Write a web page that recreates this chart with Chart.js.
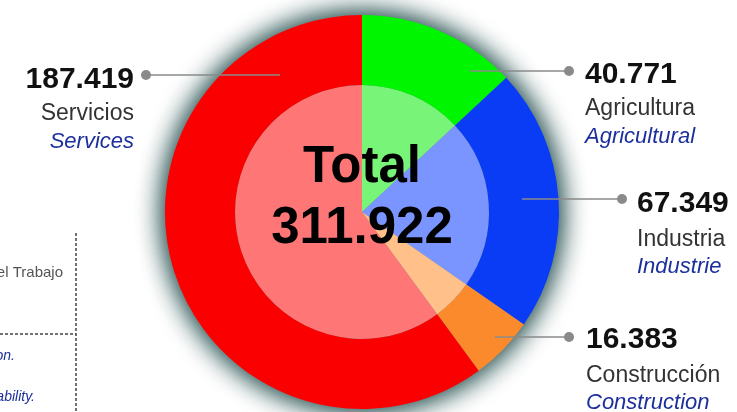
<!DOCTYPE html>
<html>
<head>
<meta charset="utf-8">
<script src="https://cdn.jsdelivr.net/npm/chart.js@4/dist/chart.umd.min.js"></script>
<style>
  html, body { margin: 0; padding: 0; background: #ffffff; }
  #wrap { width: 737px; height: 412px; position: relative; overflow: hidden; }
  canvas { display: block; }
</style>
</head>
<body>
<div id="wrap"><canvas id="c" width="737" height="412"></canvas></div>
<script>
// ---- data ----
const categoriesEs = ['Agricultura', 'Industria', 'Construcción', 'Servicios'];
const categoriesEn = ['Agricultural', 'Industrie', 'Construction', 'Services'];
const values = [40.771, 67.349, 16.383, 187.419];
const valueLabels = ['40.771', '67.349', '16.383', '187.419'];
const totalLabel = '311.922';
const totalTitle = 'Total';

// ---- styles / layout ----
const outerColors = ['#00f500', '#0a3cf5', '#fb8a2c', '#fa0000'];
const innerColors = ['#78f578', '#7a95ff', '#ffc08a', '#ff7676'];
const labelLayout = [
  { align: 'left',  dotX: 569, dotY: 71,  lineX: 470, textX: 585, base: [83, 115, 143] },
  { align: 'left',  dotX: 622, dotY: 199, lineX: 522, textX: 637, base: [212, 246, 273] },
  { align: 'left',  dotX: 569, dotY: 337, lineX: 495, textX: 586, base: [348, 382, 409] },
  { align: 'right', dotX: 146, dotY: 75,  lineX: 280, textX: 134, base: [88, 120, 148] }
];

const glowPlugin = {
  id: 'glow',
  beforeDatasetsDraw(chart) {
    const arc = chart.getDatasetMeta(0).data[0];
    if (!arc) return;
    const ctx = chart.ctx;
    ctx.save();
    ctx.shadowColor = 'rgba(45,85,85,1)';
    ctx.shadowBlur = 28;
    ctx.fillStyle = '#6f9090';
    for (let k = 0; k < 2; k++) {
      ctx.beginPath();
      ctx.arc(arc.x, arc.y, arc.outerRadius - 1, 0, Math.PI * 2);
      ctx.fill();
    }
    ctx.restore();
  }
};

const labelsPlugin = {
  id: 'labels',
  afterDatasetsDraw(chart) {
    const ctx = chart.ctx;
    const arc0 = chart.getDatasetMeta(0).data[0];
    ctx.save();
    // center total
    ctx.fillStyle = '#000';
    ctx.textAlign = 'center';
    ctx.textBaseline = 'alphabetic';
    ctx.font = 'bold 51px "Liberation Sans", Arial, sans-serif';
    ctx.fillText(totalTitle, arc0.x, 182);
    ctx.fillText(totalLabel, arc0.x, 243);

    // leader lines + labels
    values.forEach((v, i) => {
      const L = labelLayout[i];
      ctx.strokeStyle = '#8a8a8a';
      ctx.lineWidth = 1.5;
      ctx.beginPath();
      ctx.moveTo(L.lineX, L.dotY);
      ctx.lineTo(L.dotX, L.dotY);
      ctx.stroke();
      ctx.fillStyle = '#8a8a8a';
      ctx.beginPath();
      ctx.arc(L.dotX, L.dotY, 5, 0, Math.PI * 2);
      ctx.fill();

      ctx.textAlign = L.align;
      ctx.fillStyle = '#111';
      ctx.font = 'bold 30px "Liberation Sans", Arial, sans-serif';
      ctx.fillText(valueLabels[i], L.textX, L.base[0]);
      ctx.fillStyle = '#333';
      ctx.font = '23px "Liberation Sans", Arial, sans-serif';
      ctx.fillText(categoriesEs[i], L.textX, L.base[1]);
      ctx.fillStyle = '#1c2f9c';
      ctx.font = 'italic 22px "Liberation Sans", Arial, sans-serif';
      ctx.fillText(categoriesEn[i], L.textX, L.base[2]);
    });

    // partial side panel (cut off at left edge)
    ctx.strokeStyle = '#444';
    ctx.lineWidth = 1.5;
    ctx.setLineDash([3, 2]);
    ctx.beginPath();
    ctx.moveTo(76, 233); ctx.lineTo(76, 412);
    ctx.moveTo(0, 334); ctx.lineTo(76, 334);
    ctx.stroke();
    ctx.setLineDash([]);
    ctx.textAlign = 'right';
    ctx.fillStyle = '#555';
    ctx.font = '15px "Liberation Sans", Arial, sans-serif';
    ctx.fillText('Ministerio del Trabajo', 63, 277);
    ctx.fillStyle = '#1c2f9c';
    ctx.font = 'italic 14px "Liberation Sans", Arial, sans-serif';
    ctx.fillText('Employment by section.', 15, 360);
    ctx.fillText('Social Security affiliation availability.', 35, 401);
    ctx.restore();
  }
};

new Chart(document.getElementById('c'), {
  type: 'doughnut',
  data: {
    labels: categoriesEn,
    datasets: [
      { data: values, backgroundColor: outerColors, borderWidth: 0, weight: 70 },
      { data: values, backgroundColor: innerColors, borderWidth: 0, weight: 127 }
    ]
  },
  options: {
    responsive: false,
    animation: false,
    cutout: 0,
    layout: { padding: { left: 165, right: 178, top: 15, bottom: 3 } },
    plugins: { legend: { display: false }, tooltip: { enabled: false } }
  },
  plugins: [glowPlugin, labelsPlugin]
});
</script>
</body>
</html>
